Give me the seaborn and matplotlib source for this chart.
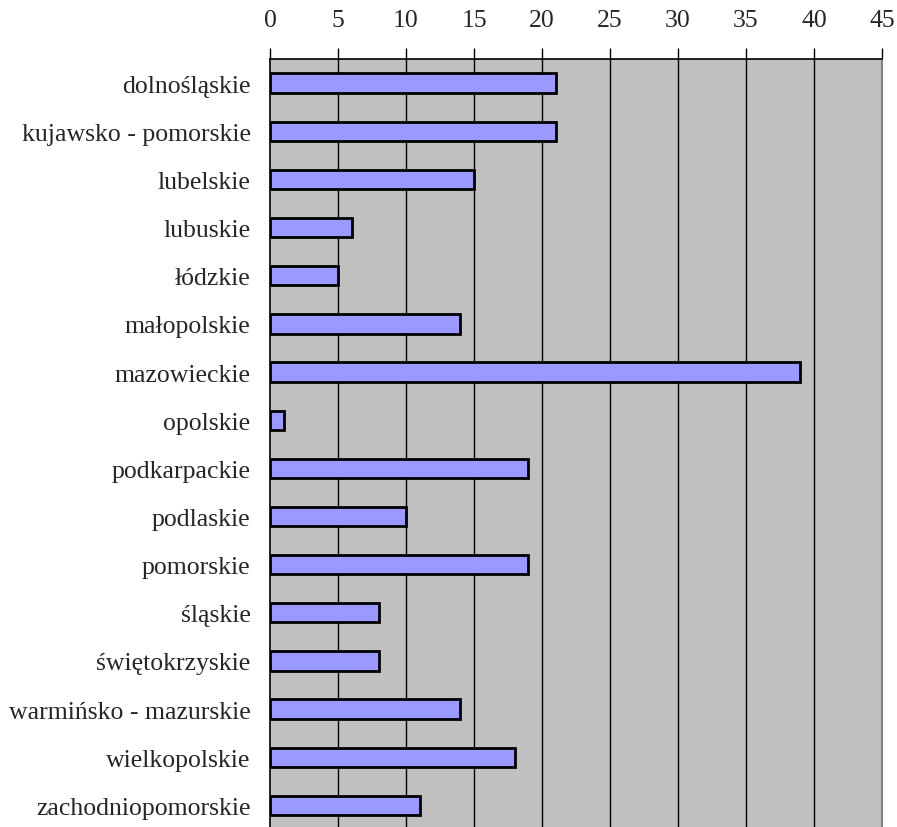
import numpy as np
import pandas as pd
import matplotlib
matplotlib.use('Agg')
import matplotlib.pyplot as plt
import seaborn as sns

# Data
regions = ['dolnośląskie', 'kujawsko - pomorskie', 'lubelskie', 'lubuskie', 'łódzkie',
           'małopolskie', 'mazowieckie', 'opolskie', 'podkarpackie', 'podlaskie',
           'pomorskie', 'śląskie', 'świętokrzyskie', 'warmińsko - mazurskie',
           'wielkopolskie', 'zachodniopomorskie']
counts = [21, 21, 15, 6, 5, 14, 39, 1, 19, 10, 19, 8, 8, 14, 18, 11]
x_ticks = [0, 5, 10, 15, 20, 25, 30, 35, 40, 45]

df = pd.DataFrame({'region': regions, 'count': counts})

sns.set_style('white')
plt.rcParams['font.family'] = ['Liberation Serif', 'DejaVu Serif']

fig = plt.figure(figsize=(8.97, 8.28), dpi=100)
ax = fig.add_axes([0.301, -0.003, 0.6823, 0.9305])
ax.set_facecolor('#C0C0C0')

sns.barplot(data=df, x='count', y='region', orient='h', color='#9999FF',
            saturation=1, edgecolor='black', linewidth=2, width=0.4, ax=ax)

ax.set_xlim(0, 45)
ax.set_ylim(len(regions) - 0.5, -0.5)
ax.set_xticks(x_ticks)
ax.xaxis.tick_top()
ax.xaxis.set_label_position('top')
ax.set_xlabel('')
ax.set_ylabel('')

for v in x_ticks[1:-1]:
    ax.axvline(v, color='black', linewidth=1, zorder=0.5)

ax.set_yticks(np.arange(len(regions)) + 0.5, minor=True)
ax.tick_params(axis='y', which='major', length=0, pad=14, labelsize=18.5)
ax.tick_params(axis='y', which='minor', length=8, width=1, color='black', direction='out')
ax.tick_params(axis='x', which='major', length=8, width=1, color='black',
               direction='out', pad=12, labelsize=18.5)

for side in ['top', 'left']:
    ax.spines[side].set_color('black')
    ax.spines[side].set_linewidth(1.2)
ax.spines['right'].set_color('#808080')
ax.spines['right'].set_linewidth(1.5)
ax.spines['bottom'].set_visible(False)

fig.savefig('out.png', dpi=100)
